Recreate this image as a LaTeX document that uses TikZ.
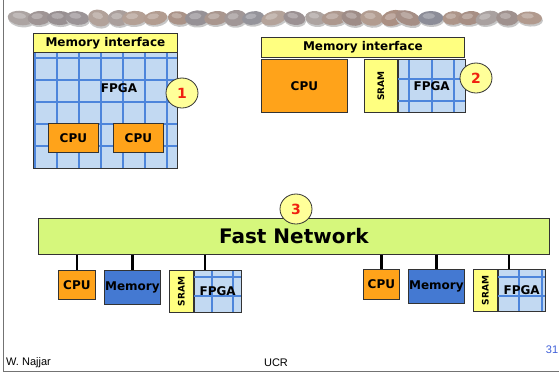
\documentclass[tikz,border=0pt]{standalone}
\usepackage{fontspec}
\setmainfont{DejaVu Sans}
\newfontfamily\footfont{Liberation Sans}
\usetikzlibrary{shapes.geometric,calc,positioning}

\definecolor{ifyellow}{HTML}{FFFF80}
\definecolor{tagyellow}{HTML}{FFFF99}
\definecolor{cpuorange}{HTML}{FFA31A}
\definecolor{ramblue}{HTML}{4479D2}
\definecolor{gridfill}{HTML}{C2D9F2}
\definecolor{gridblue}{HTML}{4D85DB}
\definecolor{netgreen}{HTML}{D6F77C}
\definecolor{tagred}{HTML}{F02010}
\definecolor{pageblue}{HTML}{3F5FD8}
\definecolor{stoneA}{HTML}{8A8C98}
\definecolor{stoneB}{HTML}{A88A7C}
\definecolor{stoneC}{HTML}{CBC3BA}

\tikzset{
  box/.style={draw=black!80, line width=0.8pt, inner sep=0pt,
    font=\bfseries\fontsize{12}{14}\selectfont},
  membox/.style={box, fill=ifyellow},
  cpubox/.style={box, fill=cpuorange},
  rambox/.style={box, fill=ramblue},
  srambox/.style={box, fill=ifyellow},
  fpgabox/.style={box, fill=gridfill},
  netbar/.style={box, fill=netgreen, font=\bfseries\fontsize{20}{24}\selectfont},
  gridline/.style={draw=gridblue, line width=2pt},
  lbl/.style={font=\bfseries\fontsize{12}{14}\selectfont, inner sep=0pt},
  sramlbl/.style={font=\bfseries\fontsize{9}{10}\selectfont, inner sep=0pt, rotate=90},
  tag/.style={ellipse, draw=black!80, line width=0.8pt, fill=tagyellow, text=tagred,
    minimum width=32, minimum height=30, inner sep=0pt,
    font=\bfseries\fontsize{14}{16}\selectfont},
  netwire/.style={draw=black, line width=2.2pt},
  foot/.style={font=\footfont\fontsize{11}{13}\selectfont, inner sep=0pt},
}

\newcommand{\gridin}[3]{%
  \begin{scope}
    \clip (#1.south west) rectangle (#1.north east);
    \foreach \gx in {#2} \draw[gridline] (\gx,0 |- #1.north) -- (\gx,0 |- #1.south);
    \foreach \gy in {#3} \draw[gridline] (0,\gy -| #1.west) -- (0,\gy -| #1.east);
  \end{scope}
  \draw[draw=black!80, line width=0.8pt] (#1.south west) rectangle (#1.north east);
}

\begin{document}
\begin{tikzpicture}[x=1pt,y=-1pt]
\useasboundingbox (0,0) rectangle (559,373);

% frame
\draw[black!55, line width=1pt] (3,0) -- (3,371.5) -- (559,371.5);

% pebbles
\pgfmathsetseed{11}
\foreach \i in {0,...,26} {
  \pgfmathsetmacro\px{19+19.6*\i+3*rand}
  \pgfmathsetmacro\rx{10.5+3*rnd}
  \pgfmathsetmacro\ry{6.5+1.8*rnd}
  \pgfmathsetmacro\tone{int(100*rnd)}
  \pgfmathsetmacro\lite{int(55+45*rnd)}
  \pgfmathsetmacro\tilt{18*rand}
  \begin{scope}[shift={(\px,18)}, rotate=\tilt]
    \fill[black!22] (1,2) ellipse [x radius=\rx pt, y radius=\ry pt];
    \fill[stoneA!\tone!stoneB!\lite!stoneC] (0,0) ellipse [x radius=\rx pt, y radius=\ry pt];
    \fill[white, opacity=0.25] (-2,-2) ellipse [x radius=0.5*\rx pt, y radius=0.4*\ry pt];
  \end{scope}
}

% 1: CPUs inside the FPGA
\node[membox, minimum width=144, minimum height=19, anchor=north west] (mem1) at (33,33) {Memory interface};
\node[fpgabox, minimum width=144, minimum height=116, anchor=north west] (fpga1) at (33,52) {};
\gridin{fpga1}{35,57,...,167}{58,80,...,146}
\node[lbl] (fpgalbl1) at (119,88) {FPGA};
\node[cpubox, minimum width=50, minimum height=29, anchor=north west] (cpu1a) at (48,123) {CPU};
\node[cpubox, minimum width=50, minimum height=29, anchor=north west] (cpu1b) at (113,123) {CPU};
\node[tag] (tag1) at (182,93) {1};

% 2: CPU beside SRAM and FPGA
\node[membox, minimum width=203, minimum height=20, anchor=north west] (mem2) at (261,37) {Memory interface};
\node[cpubox, minimum width=86, minimum height=53, anchor=north west] (cpu2) at (261,59) {CPU};
\node[srambox, minimum width=33, minimum height=53, anchor=north west] (sram2) at (364,59) {};
\node[sramlbl] at (sram2) {SRAM};
\node[fpgabox, minimum width=67, minimum height=53, anchor=north west] (fpga2) at (sram2.north east) {};
\gridin{fpga2}{409,431.5,454}{79,101}
\node[lbl] at (fpga2) {FPGA};
\node[tag] (tag2) at (476,78) {2};

% 3: nodes on a fast network
\node[netbar, minimum width=511, minimum height=36, anchor=north west] (net) at (38,218) {Fast Network};
\node[tag] (tag3) at (296,209) {3};

\node[cpubox, minimum width=37, minimum height=29, anchor=north west] (cpuL) at (58,270) {CPU};
\node[rambox, minimum width=56, minimum height=34, anchor=north west] (ramL) at (104,270) {Memory};
\node[srambox, minimum width=24, minimum height=42, anchor=north west] (sramL) at (169,270) {};
\node[sramlbl] at (sramL) {SRAM};
\node[fpgabox, minimum width=47, minimum height=42, anchor=north west] (fpgaL) at (sramL.north east) {};
\gridin{fpgaL}{212,233}{277,296}
\node[lbl] at (fpgaL) {FPGA};
\coordinate (unitL) at ($(sramL.north west)!0.5!(fpgaL.north east)$);

\node[cpubox, minimum width=36, minimum height=30, anchor=north west] (cpuR) at (363,269) {CPU};
\node[rambox, minimum width=56, minimum height=34, anchor=north west] (ramR) at (408,269) {Memory};
\node[srambox, minimum width=24, minimum height=42, anchor=north west] (sramR) at (473,269) {};
\node[sramlbl] at (sramR) {SRAM};
\node[fpgabox, minimum width=47, minimum height=42, anchor=north west] (fpgaR) at (sramR.north east) {};
\gridin{fpgaR}{519,542}{277,296}
\node[lbl] at (fpgaR) {FPGA};
\coordinate (unitR) at ($(sramR.north west)!0.5!(fpgaR.north east)$);

\draw[netwire] (net.south -| cpuL)  -- (cpuL.north);
\draw[netwire] (net.south -| ramL)  -- (ramL.north);
\draw[netwire] (net.south -| unitL) -- (unitL);
\draw[netwire] (net.south -| cpuR)  -- (cpuR.north);
\draw[netwire] (net.south -| ramR)  -- (ramR.north);
\draw[netwire] (net.south -| unitR) -- (unitR);

% footer
\node[foot, anchor=west] (author) at (6,363) {W. Najjar};
\node[foot] (place) at (276,363) {UCR};
\node[foot, text=pageblue] (page) at (552,350) {31};
\end{tikzpicture}
\end{document}
